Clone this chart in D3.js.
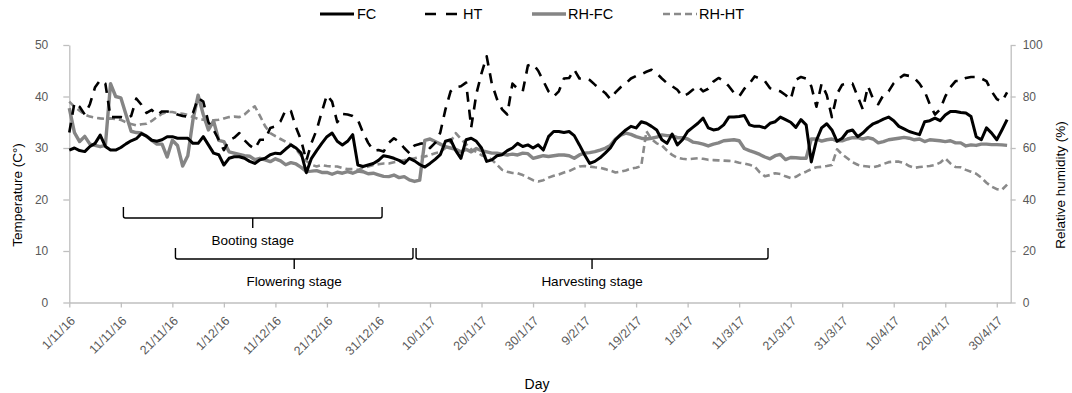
<!DOCTYPE html>
<html><head><meta charset="utf-8">
<script src="https://cdn.jsdelivr.net/npm/d3@7"></script>
<style>body{margin:0;background:#fff} svg{display:block;font-family:"Liberation Sans",Arial,sans-serif}</style>
</head><body><svg id="c" width="1072" height="393"></svg>
<script>
// Daily series from 1/11/16 (index 0) onwards
const tickLabels = ["1/11/16","11/11/16","21/11/16","1/12/16","11/12/16","21/12/16","31/12/16","10/1/17","20/1/17","30/1/17","9/2/17","19/2/17","1/3/17","11/3/17","21/3/17","31/3/17","10/4/17","20/4/17","30/4/17"];
const tempTicks = [0,10,20,30,40,50];
const rhTicks = [0,20,40,60,80,100];

const FC = [29.6,30.0,29.5,29.3,30.3,30.9,32.5,30.3,29.6,29.6,30.1,30.8,31.4,31.8,32.8,32.3,31.5,31.3,31.6,32.2,
32.2,31.9,31.9,31.9,30.9,30.9,32.2,30.6,29.0,28.7,26.7,28.0,28.3,28.3,28.0,27.4,27.0,27.7,28.0,28.7,
29.0,28.9,29.8,30.6,30.0,29.0,25.2,28.0,29.5,30.9,32.2,32.9,31.3,30.6,31.3,32.6,26.7,26.4,26.7,27.0,
27.6,28.5,28.3,28.0,27.6,27.0,28.0,27.5,26.8,26.3,27.0,27.8,28.7,31.3,31.6,29.5,28.0,31.6,31.9,31.3,
30.0,27.4,27.7,28.5,28.7,29.5,30.0,30.9,30.3,30.6,30.0,30.6,29.6,32.2,33.2,33.2,33.0,33.2,32.4,30.6,
28.7,27.0,27.4,28.1,29.0,30.0,31.6,32.6,33.5,34.2,33.9,35.1,34.8,34.2,33.5,31.6,30.9,32.7,30.6,31.6,
33.2,34.0,34.8,35.8,33.9,33.5,33.7,34.5,36.0,36.0,36.1,36.3,34.5,34.2,34.2,33.9,34.8,35.1,36.0,35.5,
35.0,34.0,35.5,34.5,27.3,31.5,33.9,34.7,33.5,31.3,31.9,33.2,33.5,32.2,32.9,33.9,34.7,35.1,35.6,36.0,
35.3,34.2,33.7,33.2,32.9,32.6,35.1,35.3,35.8,35.3,36.4,37.1,37.1,36.9,36.8,36.1,32.2,31.6,33.9,32.9,
31.6,33.5,35.5];

const HT = [33.0,38.8,38.0,36.5,38.5,41.8,43.2,42.5,36.0,36.0,36.0,35.8,36.2,39.6,38.4,36.8,37.4,36.4,37.1,37.1,
36.9,36.5,36.2,36.1,36.8,39.7,39.0,35.0,33.5,31.6,29.6,31.5,32.0,32.9,31.5,30.5,29.8,31.6,31.6,33.9,
34.2,35.2,37.4,37.2,34.0,31.5,27.5,31.0,33.5,37.0,40.3,39.0,35.0,36.6,36.5,36.2,35.5,33.0,31.0,29.5,
29.6,29.3,31.0,31.9,31.2,30.0,29.0,30.5,30.8,31.0,30.0,31.0,33.0,37.5,41.0,41.8,42.0,42.7,34.0,40.5,
44.5,47.8,42.5,39.5,37.5,36.5,42.5,41.5,41.0,46.0,46.3,45.0,43.0,41.0,40.0,41.0,43.5,43.6,45.2,43.5,
43.5,43.2,42.3,41.5,40.7,39.5,40.8,41.8,42.5,43.5,44.0,44.3,44.8,45.2,44.5,43.5,42.6,42.0,41.3,40.0,
40.5,41.3,42.0,41.0,41.5,42.9,43.6,43.0,42.0,40.7,40.0,41.5,42.5,43.9,43.5,43.0,41.6,41.3,41.0,40.3,
39.4,43.2,43.8,43.5,42.0,38.0,42.5,40.3,36.0,40.5,42.3,42.5,42.5,40.0,37.5,42.0,39.5,38.5,40.3,41.0,
42.6,43.5,44.2,44.0,43.6,42.5,41.0,38.5,36.5,37.5,40.0,41.8,43.0,43.0,43.6,43.8,43.8,43.5,43.0,41.0,
39.5,39.0,40.8];

const RH_FC = [75.5,66.0,62.5,64.5,61.5,61.0,60.5,61.0,85.0,80.0,79.5,73.0,66.5,66.0,65.8,64.5,63.0,61.5,61.5,56.5,
63.0,61.0,53.0,57.0,71.0,80.5,73.0,67.0,70.5,63.0,62.5,58.5,58.0,57.5,57.0,56.8,55.5,56.0,55.4,54.7,
55.8,55.0,53.5,54.3,53.8,52.5,50.9,51.0,51.2,50.5,50.5,49.8,50.6,50.2,50.8,50.2,51.0,50.8,50.0,50.2,
49.6,49.0,48.9,49.5,48.5,48.9,47.6,47.0,47.5,63.0,63.5,62.5,61.5,60.5,60.0,59.5,58.5,59.5,58.5,59.8,
59.0,58.5,58.0,58.0,57.6,57.3,57.6,57.3,58.0,57.8,56.0,56.5,57.0,56.7,57.0,57.3,57.3,57.0,56.0,57.3,
58.0,58.2,58.6,59.2,59.9,61.0,63.5,65.0,65.8,65.3,64.4,63.8,63.5,63.8,64.2,65.1,64.8,64.8,64.0,64.0,
63.5,62.3,62.0,61.5,60.8,61.5,62.0,62.8,63.0,63.2,62.8,59.8,59.0,58.3,57.5,56.5,55.8,57.0,57.5,55.5,
56.3,56.2,56.0,56.0,63.5,63.5,62.7,63.2,63.5,62.8,62.8,63.5,64.0,64.0,63.5,64.0,63.5,62.0,62.5,63.2,
63.5,63.8,64.1,63.8,63.2,63.5,62.5,63.2,63.0,62.8,62.5,62.8,62.0,62.0,60.8,61.2,61.0,61.5,61.5,61.3,
61.3,61.2,61.0];

const RH_HT = [78.0,76.0,74.5,73.0,72.2,71.8,71.5,71.3,71.5,71.3,70.9,70.0,69.3,68.8,69.2,69.4,70.5,72.0,73.3,74.0,
74.0,73.5,73.3,72.8,72.0,71.3,71.0,70.6,70.8,71.0,71.5,72.0,72.2,72.0,73.0,74.8,76.2,72.5,68.5,65.8,
64.6,63.5,62.4,61.4,59.5,57.0,55.0,53.5,52.8,53.4,53.0,52.8,52.8,52.2,51.8,51.8,51.5,52.2,52.8,53.4,
53.7,54.0,54.0,54.5,54.9,55.2,55.8,56.0,56.5,56.7,57.3,58.0,58.5,60.0,62.5,65.8,63.5,61.5,59.5,58.5,
57.2,56.5,55.5,53.5,51.5,50.8,50.3,50.2,49.5,48.5,47.5,47.0,47.5,48.5,49.2,49.7,50.5,51.0,52.0,52.8,
53.0,52.8,52.5,52.3,51.8,51.2,50.5,50.8,51.3,52.0,52.3,53.0,66.5,63.5,61.8,61.0,59.0,57.3,56.2,55.8,
55.6,55.8,56.0,55.8,55.4,55.3,55.2,55.1,55.0,54.8,54.3,54.0,53.5,52.8,50.5,49.0,49.5,50.2,49.9,49.0,
48.3,48.8,50.0,50.8,51.8,52.5,52.7,53.0,53.4,59.5,57.5,56.0,54.5,53.5,53.0,52.8,52.5,53.0,53.8,54.5,
54.7,54.7,54.2,53.0,52.3,52.6,52.8,53.0,53.4,54.3,56.0,54.0,52.6,52.5,51.5,50.8,50.0,48.5,46.5,45.0,
44.0,43.8,45.8];

const stageNames = ["Booting stage","Flowering stage","Harvesting stage"];
const stageStart = [10.5, 20.6, 67.3];   // day index
const stageEnd   = [60.7, 66.7, 135.6];
const stageRow   = [0, 1, 1];

const svg = d3.select("#c");
const L = 69.3, R = 1010.7, T = 45, B = 302.5;
const x = d3.scaleLinear().domain([0, 182.7]).range([L, R]);
const yT = d3.scaleLinear().domain([0, 50]).range([B, T]);
const yH = d3.scaleLinear().domain([0, 100]).range([B, T]);
const axisCol = "#bfbfbf", labCol = "#595959";

// axes
const gL = svg.append("g").attr("transform", `translate(${L},0)`)
  .call(d3.axisLeft(yT).tickValues(tempTicks).tickSize(6).tickSizeOuter(0).tickPadding(15));
const gR = svg.append("g").attr("transform", `translate(${R},0)`)
  .call(d3.axisRight(yH).tickValues(rhTicks).tickSize(5).tickSizeOuter(0).tickPadding(7));
const gX = svg.append("g").attr("transform", `translate(0,${B})`)
  .call(d3.axisBottom(x).tickValues(d3.range(0, 181, 10)).tickFormat((d, i) => tickLabels[i]).tickSize(5).tickSizeOuter(0));
[gL, gR, gX].forEach(g => {
  g.selectAll("path, line").attr("stroke", axisCol).attr("stroke-width", 1.3);
  g.selectAll("text").attr("fill", labCol).style("font-size", "12px").style("font-family", "Liberation Sans, Arial, sans-serif");
});
gX.selectAll("text")
  .style("font-size", "12.5px")
  .attr("text-anchor", "end").attr("dy", null).attr("y", null)
  .attr("transform", "translate(6,19) rotate(-45)");

// axis titles
svg.append("text").attr("transform", "translate(22,195) rotate(-90)").attr("text-anchor", "middle")
  .style("font-size", "13.5px").attr("fill", "#000").text("Temperature (C°)");
svg.append("text").attr("transform", "translate(1065,185) rotate(-90)").attr("text-anchor", "middle")
  .style("font-size", "13.5px").attr("fill", "#000").text("Relative humidity (%)");
svg.append("text").attr("x", 537).attr("y", 389).attr("text-anchor", "middle")
  .style("font-size", "14px").attr("fill", "#000").text("Day");

// series
const series = [
  {name: "FC", data: FC, y: yT, color: "#000", w: 3, dash: null},
  {name: "HT", data: HT, y: yT, color: "#000", w: 2.6, dash: "10,8"},
  {name: "RH-FC", data: RH_FC, y: yH, color: "#858585", w: 3.4, dash: null},
  {name: "RH-HT", data: RH_HT, y: yH, color: "#8a8a8a", w: 2.6, dash: "7,4"}
];
const drawOrder = [3, 2, 1, 0];
drawOrder.forEach(k => {
  const s = series[k];
  const line = d3.line().x((d, i) => x(i)).y(d => s.y(d));
  svg.append("path").datum(s.data).attr("d", line).attr("fill", "none")
    .attr("stroke", s.color).attr("stroke-width", s.w).attr("stroke-linejoin", "round")
    .attr("stroke-dasharray", s.dash);
});

// legend
const legX = [320, 425, 532, 663];
const legY = 14;
series.forEach((s, i) => {
  svg.append("line").attr("x1", legX[i]).attr("x2", legX[i] + 34).attr("y1", legY).attr("y2", legY)
    .attr("stroke", s.color).attr("stroke-width", s.w).attr("stroke-dasharray", s.name === "HT" ? "11,10" : s.dash);
  svg.append("text").attr("x", legX[i] + (i === 0 ? 37 : i === 1 ? 38 : 36)).attr("y", legY + 5)
    .style("font-size", "14.5px").attr("fill", "#000").text(s.name);
});

// stage brackets
const rowY = [[207, 218, 228, 245], [248, 259, 269, 286]];
stageNames.forEach((n, i) => {
  const [y0, y1, y2, yt] = rowY[stageRow[i]];
  const a = x(stageStart[i]), b = x(stageEnd[i]), m = (a + b) / 2;
  svg.append("path").attr("d", `M${a},${y0} L${a},${y1 - 2} Q${a},${y1} ${a + 2},${y1} L${b - 2},${y1} Q${b},${y1} ${b},${y1 - 2} L${b},${y0} M${m},${y1} L${m},${y2}`)
    .attr("fill", "none").attr("stroke", "#000").attr("stroke-width", 1.4);
  svg.append("text").attr("x", m).attr("y", yt).attr("text-anchor", "middle")
    .style("font-size", "13.5px").attr("fill", "#000").text(n);
});
</script></body></html>
